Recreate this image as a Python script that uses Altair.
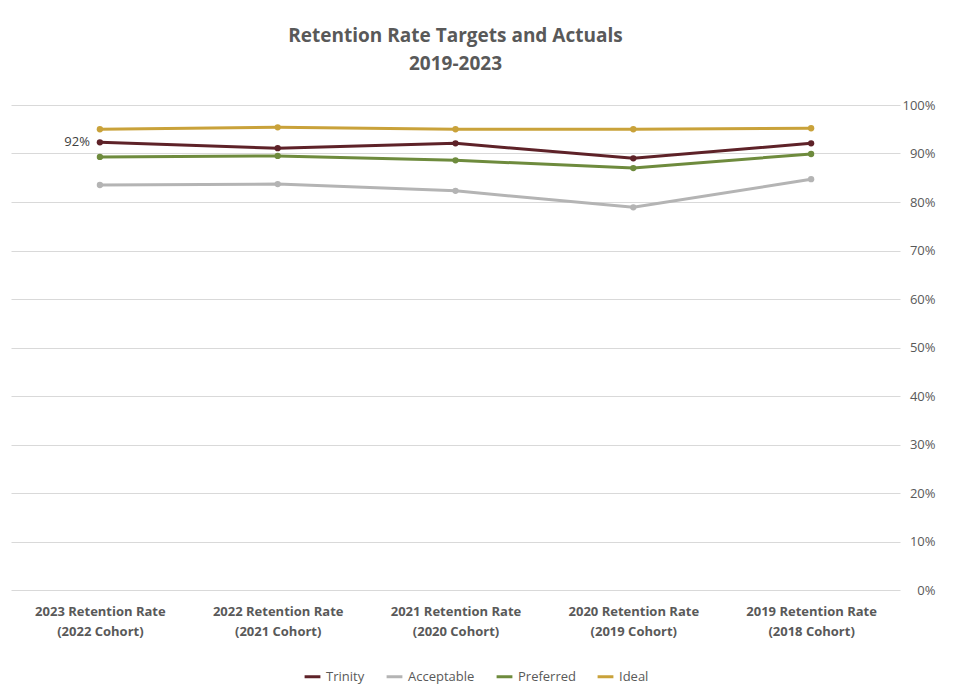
import altair as alt
import pandas as pd

categories = [
    "2023 Retention Rate|(2022 Cohort)",
    "2022 Retention Rate|(2021 Cohort)",
    "2021 Retention Rate|(2020 Cohort)",
    "2020 Retention Rate|(2019 Cohort)",
    "2019 Retention Rate|(2018 Cohort)",
]
series_names = ["Trinity", "Acceptable", "Preferred", "Ideal"]
series_colors = ["#5E2228", "#B4B4B4", "#6E8B3D", "#C9A23A"]
y_ticks = [0.0, 0.1, 0.2, 0.3, 0.4, 0.5, 0.6, 0.7, 0.8, 0.9, 1.0]

ideal = [0.950, 0.954, 0.950, 0.950, 0.952]
trinity = [0.923, 0.911, 0.921, 0.890, 0.921]
preferred = [0.893, 0.895, 0.886, 0.870, 0.899]
acceptable = [0.835, 0.837, 0.823, 0.789, 0.847]

rows = []
for name, vals in [("Ideal", ideal), ("Preferred", preferred),
                   ("Acceptable", acceptable), ("Trinity", trinity)]:
    for c, v in zip(categories, vals):
        rows.append({"Category": c, "Series": name, "Value": v})
df = pd.DataFrame(rows)

label_df = pd.DataFrame([{"Category": categories[0], "Value": trinity[0],
                          "Label": f"{round(trinity[0]*100)}%"}])

FONT = "Open Sans"
GRAY = "#595959"

x_enc = alt.X("Category:N", sort=categories, title=None,
              scale=alt.Scale(type="point", padding=0.5),
              axis=alt.Axis(labelExpr="split(datum.label, '|')",
                            labelAngle=0, labelFontWeight="bold",
                            labelFontSize=13, labelColor=GRAY,
                            labelFont=FONT, labelPadding=15,
                            domain=False, ticks=False, grid=False,
                            labelLineHeight=20))
y_enc = alt.Y("Value:Q", title=None,
              scale=alt.Scale(domain=[0, 1], nice=False),
              axis=alt.Axis(orient="right", format=".0%",
                            values=y_ticks, labelOverlap=False,
                            labelFontSize=13, labelColor=GRAY, labelFont=FONT,
                            labelAlign="right", labelPadding=35,
                            domain=False, ticks=False,
                            gridColor="#D9D9D9", gridWidth=1))

color_enc = alt.Color("Series:N",
                      scale=alt.Scale(domain=series_names, range=series_colors),
                      sort=series_names,
                      legend=alt.Legend(orient="none", direction="horizontal",
                                        legendX=292, legendY=562,
                                        title=None, symbolType="stroke",
                                        symbolStrokeWidth=3, symbolSize=250,
                                        labelFontSize=13, labelColor=GRAY,
                                        labelFont=FONT, columnPadding=15))

lines = alt.Chart(df).mark_line(strokeWidth=3).encode(
    x=x_enc, y=y_enc, color=color_enc)
points = alt.Chart(df).mark_point(filled=True, size=40, opacity=1).encode(
    x=alt.X("Category:N", sort=categories),
    y="Value:Q",
    color=alt.Color("Series:N", legend=None,
                    scale=alt.Scale(domain=series_names, range=series_colors)))
label = alt.Chart(label_df).mark_text(align="right", dx=-10, fontSize=13,
                                      color="#404040", font=FONT).encode(
    x=alt.X("Category:N", sort=categories), y="Value:Q", text="Label:N")

chart = alt.layer(lines, points, label).properties(
    width=889, height=485,
    title=alt.TitleParams(["Retention Rate Targets and Actuals", "2019-2023"],
                          fontSize=19, fontWeight="bold", color=GRAY, font=FONT,
                          anchor="middle", offset=25, lineHeight=28),
    padding={"left": 3, "top": 19, "right": 5, "bottom": 5},
).configure_view(stroke=None)

chart.save("out.html", embed_options={"renderer": "svg", "actions": False})
